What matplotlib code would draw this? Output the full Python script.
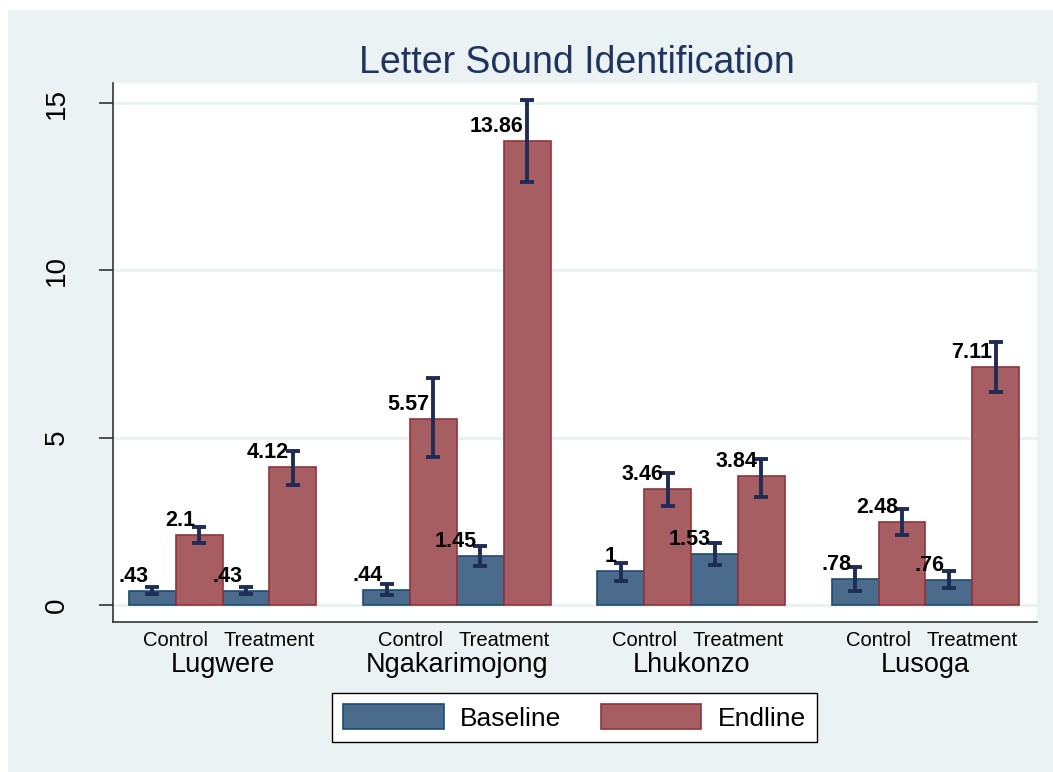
import matplotlib
matplotlib.use("Agg")
import matplotlib.pyplot as plt
from matplotlib.patches import Rectangle
import numpy as np

plt.rcParams["font.family"] = ["Liberation Sans", "DejaVu Sans"]

# Mean letter sounds identified, by language and arm
languages = ["Lugwere", "Ngakarimojong", "Lhukonzo", "Lusoga"]
arms = ["Control", "Treatment"]
series = ["Baseline", "Endline"]

baseline = [[0.43, 0.43], [0.44, 1.45], [1.00, 1.53], [0.78, 0.76]]
endline = [[2.10, 4.12], [5.57, 13.86], [3.46, 3.84], [2.48, 7.11]]

# 95% confidence intervals
baseline_lo = [[0.33, 0.33], [0.29, 1.15], [0.71, 1.20], [0.43, 0.52]]
baseline_hi = [[0.53, 0.53], [0.62, 1.75], [1.24, 1.85], [1.13, 1.00]]
endline_lo = [[1.84, 3.57], [4.41, 12.65], [2.97, 3.24], [2.10, 6.35]]
endline_hi = [[2.32, 4.59], [6.77, 15.10], [3.93, 4.36], [2.88, 7.86]]

yticks = [0, 5, 10, 15]

BASE_FILL, BASE_EDGE = "#4a6b8b", "#1f4a72"
END_FILL, END_EDGE = "#a65e63", "#8f353c"
CI_COLOR = "#1f2d55"
REGION = "#eaf2f3"

W, H = 1053, 772
fig = plt.figure(figsize=(W / 100, H / 100), dpi=100, facecolor="white")
fig.patches.append(Rectangle((8 / W, 0), 1 - 8 / W, (H - 10) / H,
                             transform=fig.transFigure, facecolor=REGION,
                             edgecolor="none", zorder=-10))

ax = fig.add_axes([113 / W, (H - 622) / H, (1037 - 113) / W, (622 - 83) / H])
ax.set_facecolor("white")


def fmt(v):
    s = f"{v:g}"
    return s[1:] if s.startswith("0.") else s


def draw(values, lo, hi, offset, fill, edge, label):
    xs, vs, los, his = [], [], [], []
    for g in range(len(languages)):
        for a in range(len(arms)):
            xs.append(g * 5 + 2 * a + offset)
            vs.append(values[g][a])
            los.append(lo[g][a])
            his.append(hi[g][a])
    xs, vs, los, his = map(np.array, (xs, vs, los, his))
    bars = ax.bar(xs, vs, width=1.0, color=fill, edgecolor=edge,
                  linewidth=1.2, label=label, zorder=2)
    ax.errorbar(xs, vs, yerr=[vs - los, his - vs], fmt="none",
                ecolor=CI_COLOR, elinewidth=2.8, capsize=4.7, capthick=2.8,
                zorder=3)
    for x, v in zip(xs, vs):
        ax.annotate(fmt(v), xy=(x, v), xytext=(-4, 9),
                    textcoords="offset pixels", ha="right", va="baseline",
                    fontsize=15.5, fontweight="bold", color="black", zorder=4)
    return bars


b1 = draw(baseline, baseline_lo, baseline_hi, 0, BASE_FILL, BASE_EDGE, series[0])
b2 = draw(endline, endline_lo, endline_hi, 1, END_FILL, END_EDGE, series[1])

ax.set_xlim(-0.84, 18.88)
ax.set_ylim(-0.51, 15.6)
ax.set_yticks(yticks)
ax.set_yticklabels([str(t) for t in yticks], rotation=90, va="center",
                   fontsize=20)
ax.tick_params(axis="y", length=10, width=1.2, color="#333333", pad=21)
ax.set_xticks([])
ax.grid(axis="y", color=REGION, linewidth=2.2, zorder=0)
ax.set_axisbelow(True)
for side in ("top", "right"):
    ax.spines[side].set_visible(False)
for side in ("left", "bottom"):
    ax.spines[side].set_color("#333333")
    ax.spines[side].set_linewidth(1.2)

# Arm and language labels below the groups
for g, lang in enumerate(languages):
    for a, arm in enumerate(arms):
        ax.text(g * 5 + 2 * a + 0.5, -0.0334, arm, transform=ax.get_xaxis_transform(),
                ha="center", va="center", fontsize=14.5)
    ax.text(g * 5 + 1.5, -0.080, lang, transform=ax.get_xaxis_transform(),
            ha="center", va="center", fontsize=19.5)

fig.text(577 / W, (H - 73) / H, "Letter Sound Identification", ha="center",
         va="baseline", fontsize=27, color="#1f3560")

leg = fig.legend(handles=[b1, b2], labels=series, loc="center",
                 bbox_to_anchor=(574.5 / W, (H - 717.5) / H), ncol=2,
                 fontsize=19, handlelength=3.8, handleheight=1.08,
                 handletextpad=0.62, columnspacing=1.5, borderpad=0.42,
                 frameon=True, fancybox=False, edgecolor="black",
                 framealpha=1.0)
leg.get_frame().set_linewidth(1.0)

fig.savefig("out.png", dpi=100, facecolor=fig.get_facecolor())
